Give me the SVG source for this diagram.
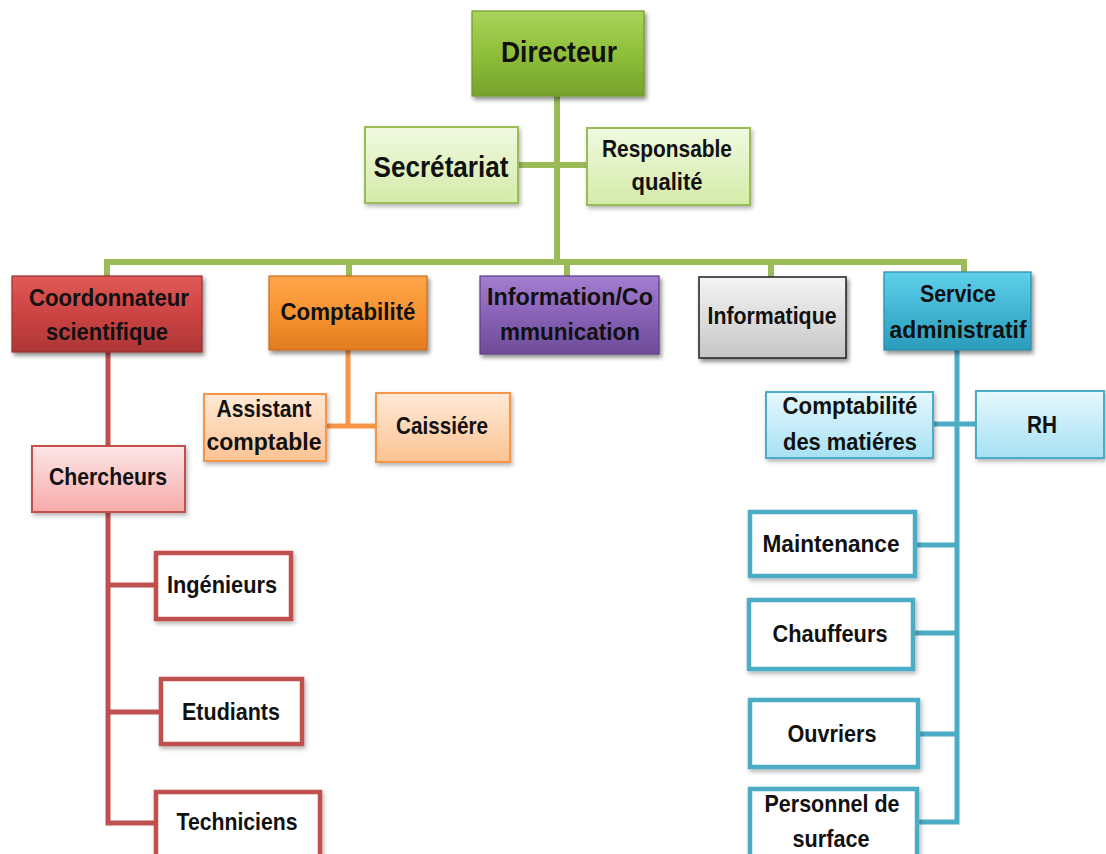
<svg xmlns="http://www.w3.org/2000/svg" width="1106" height="854" viewBox="0 0 1106 854">
  <defs>
    <style>
      .t{font-family:"Liberation Sans Narrow","Liberation Sans",Arial,sans-serif;font-weight:700;fill:#111;text-anchor:middle;font-size:24px}
      .big{font-size:30px}
      .lvl1{stroke-width:1.2}
      .lite{stroke-width:2}
      .plain{fill:#fff;stroke-width:4.5}
      .cn{fill:none;stroke-linejoin:miter;stroke-linecap:butt}
    </style>
    <filter id="sh" x="-10%" y="-10%" width="125%" height="135%">
      <feDropShadow dx="2" dy="3" stdDeviation="2.2" flood-color="#000" flood-opacity="0.45"/>
    </filter>
    <filter id="shl" x="-10%" y="-10%" width="125%" height="135%">
      <feDropShadow dx="1.5" dy="2.5" stdDeviation="2" flood-color="#000" flood-opacity="0.3"/>
    </filter>
    <linearGradient id="gGreen" x1="0" y1="0" x2="0" y2="1">
      <stop offset="0" stop-color="#a9d35a"/>
      <stop offset="0.5" stop-color="#8fbf3b"/>
      <stop offset="1" stop-color="#76a22b"/>
    </linearGradient>
    <linearGradient id="gRed" x1="0" y1="0" x2="0" y2="1">
      <stop offset="0" stop-color="#e05a58"/>
      <stop offset="0.5" stop-color="#cc4343"/>
      <stop offset="1" stop-color="#ad3636"/>
    </linearGradient>
    <linearGradient id="gOrange" x1="0" y1="0" x2="0" y2="1">
      <stop offset="0" stop-color="#ffa54a"/>
      <stop offset="0.5" stop-color="#f79331"/>
      <stop offset="1" stop-color="#e17c1f"/>
    </linearGradient>
    <linearGradient id="gPurple" x1="0" y1="0" x2="0" y2="1">
      <stop offset="0" stop-color="#a37dd0"/>
      <stop offset="0.5" stop-color="#8862b6"/>
      <stop offset="1" stop-color="#6e4c98"/>
    </linearGradient>
    <linearGradient id="gGray" x1="0" y1="0" x2="0" y2="1">
      <stop offset="0" stop-color="#f4f4f4"/>
      <stop offset="1" stop-color="#c6c6c6"/>
    </linearGradient>
    <linearGradient id="gCyan" x1="0" y1="0" x2="0" y2="1">
      <stop offset="0" stop-color="#5fd0ea"/>
      <stop offset="0.5" stop-color="#40b5d3"/>
      <stop offset="1" stop-color="#2b9cbb"/>
    </linearGradient>
    <linearGradient id="lGreen" x1="0" y1="0" x2="0" y2="1">
      <stop offset="0" stop-color="#f0f9e0"/>
      <stop offset="1" stop-color="#d4eba9"/>
    </linearGradient>
    <linearGradient id="lOrange" x1="0" y1="0" x2="0" y2="1">
      <stop offset="0" stop-color="#fee9d6"/>
      <stop offset="1" stop-color="#fcc392"/>
    </linearGradient>
    <linearGradient id="lRed" x1="0" y1="0" x2="0" y2="1">
      <stop offset="0" stop-color="#fde6e6"/>
      <stop offset="1" stop-color="#f7aaaa"/>
    </linearGradient>
    <linearGradient id="lCyan" x1="0" y1="0" x2="0" y2="1">
      <stop offset="0" stop-color="#e6f7fd"/>
      <stop offset="1" stop-color="#a6e1f3"/>
    </linearGradient>
  </defs>

  <rect width="1106" height="854" fill="#fff"/>

  <!-- connectors -->
  <g id="connectors" class="cn">
    <g stroke="#9bbb59" stroke-width="6">
      <path d="M557,96 V262"/>
      <path d="M517,165 H587"/>
      <path d="M107,277 V262 H964 V273"/>
      <path d="M349,262 V277"/>
      <path d="M567,262 V277"/>
      <path d="M771,262 V277"/>
    </g>
    <g stroke="#f79646" stroke-width="5">
      <path d="M348,350 V426"/>
      <path d="M326,426 H376"/>
    </g>
    <g stroke="#c0504d" stroke-width="5">
      <path d="M108,352 V823 H156"/>
      <path d="M108,585 H156"/>
      <path d="M108,712 H161"/>
    </g>
    <g stroke="#4bacc6" stroke-width="5">
      <path d="M957,350 V822 H917"/>
      <path d="M933,424 H976"/>
      <path d="M915,545 H957"/>
      <path d="M913,633 H957"/>
      <path d="M918,734 H957"/>
    </g>
  </g>

  <!-- top -->
  <g id="directeur">
    <rect x="472" y="11" width="172" height="85" fill="url(#gGreen)" stroke="#6f9a2c" class="lvl1" filter="url(#sh)"/>
    <text class="t big" x="559" y="62" textLength="116" lengthAdjust="spacingAndGlyphs">Directeur</text>
  </g>
  <g id="secretariat">
    <rect x="365" y="127" width="153" height="76" fill="url(#lGreen)" stroke="#9bbb59" class="lite" filter="url(#shl)"/>
    <text class="t big" x="441" y="177" textLength="135" lengthAdjust="spacingAndGlyphs">Secrétariat</text>
  </g>
  <g id="responsable-qualite">
    <rect x="587" y="128" width="163" height="77" fill="url(#lGreen)" stroke="#9bbb59" class="lite" filter="url(#shl)"/>
    <text class="t" x="667" y="157" textLength="130" lengthAdjust="spacingAndGlyphs">Responsable</text>
    <text class="t" x="667" y="190" textLength="71" lengthAdjust="spacingAndGlyphs">qualité</text>
  </g>

  <!-- departments -->
  <g id="coordonnateur">
    <rect x="12" y="276" width="190" height="76" fill="url(#gRed)" stroke="#9a3030" class="lvl1" filter="url(#sh)"/>
    <text class="t" x="109" y="306" textLength="160" lengthAdjust="spacingAndGlyphs">Coordonnateur</text>
    <text class="t" x="107" y="340" textLength="122" lengthAdjust="spacingAndGlyphs">scientifique</text>
  </g>
  <g id="comptabilite">
    <rect x="269" y="276" width="158" height="74" fill="url(#gOrange)" stroke="#c86d1c" class="lvl1" filter="url(#sh)"/>
    <text class="t" x="348" y="320" textLength="135" lengthAdjust="spacingAndGlyphs">Comptabilité</text>
  </g>
  <g id="information-communication">
    <rect x="480" y="276" width="179" height="78" fill="url(#gPurple)" stroke="#5e3f86" class="lvl1" filter="url(#sh)"/>
    <text class="t" x="570" y="305" textLength="166" lengthAdjust="spacingAndGlyphs">Information/Co</text>
    <text class="t" x="570" y="340" textLength="140" lengthAdjust="spacingAndGlyphs">mmunication</text>
  </g>
  <g id="informatique">
    <rect x="699" y="277" width="147" height="81" fill="url(#gGray)" stroke="#2a2a2a" stroke-width="1.6" filter="url(#sh)"/>
    <text class="t" x="772" y="324" textLength="129" lengthAdjust="spacingAndGlyphs">Informatique</text>
  </g>
  <g id="service-administratif">
    <rect x="884" y="272" width="147" height="78" fill="url(#gCyan)" stroke="#2a8aa6" class="lvl1" filter="url(#sh)"/>
    <text class="t" x="958" y="302" textLength="76" lengthAdjust="spacingAndGlyphs">Service</text>
    <text class="t" x="958" y="338" textLength="137" lengthAdjust="spacingAndGlyphs">administratif</text>
  </g>

  <!-- comptabilité branch -->
  <g id="assistant-comptable">
    <rect x="204" y="394" width="122" height="67" fill="url(#lOrange)" stroke="#f79646" class="lite" filter="url(#shl)"/>
    <text class="t" x="264" y="417" textLength="95" lengthAdjust="spacingAndGlyphs">Assistant</text>
    <text class="t" x="264" y="450" textLength="115" lengthAdjust="spacingAndGlyphs">comptable</text>
  </g>
  <g id="caissiere">
    <rect x="376" y="393" width="134" height="69" fill="url(#lOrange)" stroke="#f79646" class="lite" filter="url(#shl)"/>
    <text class="t" x="442" y="434" textLength="92" lengthAdjust="spacingAndGlyphs">Caissiére</text>
  </g>

  <!-- scientific branch -->
  <g id="chercheurs">
    <rect x="32" y="446" width="153" height="66" fill="url(#lRed)" stroke="#c0504d" class="lite" filter="url(#shl)"/>
    <text class="t" x="108" y="485" textLength="118" lengthAdjust="spacingAndGlyphs">Chercheurs</text>
  </g>
  <g id="ingenieurs">
    <rect x="156" y="553" width="135" height="66" stroke="#c0504d" class="plain" filter="url(#shl)"/>
    <text class="t" x="222" y="593" textLength="110" lengthAdjust="spacingAndGlyphs">Ingénieurs</text>
  </g>
  <g id="etudiants">
    <rect x="161" y="679" width="141" height="65" stroke="#c0504d" class="plain" filter="url(#shl)"/>
    <text class="t" x="231" y="720" textLength="98" lengthAdjust="spacingAndGlyphs">Etudiants</text>
  </g>
  <g id="techniciens">
    <rect x="156" y="792" width="164" height="80" stroke="#c0504d" class="plain" filter="url(#shl)"/>
    <text class="t" x="237" y="830" textLength="121" lengthAdjust="spacingAndGlyphs">Techniciens</text>
  </g>

  <!-- administrative branch -->
  <g id="comptabilite-matieres">
    <rect x="766" y="392" width="167" height="66" fill="url(#lCyan)" stroke="#4bacc6" class="lite" filter="url(#shl)"/>
    <text class="t" x="850" y="414" textLength="135" lengthAdjust="spacingAndGlyphs">Comptabilité</text>
    <text class="t" x="850" y="450" textLength="134" lengthAdjust="spacingAndGlyphs">des matiéres</text>
  </g>
  <g id="rh">
    <rect x="976" y="391" width="128" height="67" fill="url(#lCyan)" stroke="#4bacc6" class="lite" filter="url(#shl)"/>
    <text class="t" x="1042" y="433" textLength="30" lengthAdjust="spacingAndGlyphs">RH</text>
  </g>
  <g id="maintenance">
    <rect x="750" y="512" width="165" height="64" stroke="#4bacc6" class="plain" filter="url(#shl)"/>
    <text class="t" x="831" y="552" textLength="137" lengthAdjust="spacingAndGlyphs">Maintenance</text>
  </g>
  <g id="chauffeurs">
    <rect x="749" y="600" width="164" height="69" stroke="#4bacc6" class="plain" filter="url(#shl)"/>
    <text class="t" x="830" y="642" textLength="115" lengthAdjust="spacingAndGlyphs">Chauffeurs</text>
  </g>
  <g id="ouvriers">
    <rect x="750" y="700" width="168" height="67" stroke="#4bacc6" class="plain" filter="url(#shl)"/>
    <text class="t" x="832" y="742" textLength="89" lengthAdjust="spacingAndGlyphs">Ouvriers</text>
  </g>
  <g id="personnel-surface">
    <rect x="750" y="789" width="167" height="80" stroke="#4bacc6" class="plain" filter="url(#shl)"/>
    <text class="t" x="832" y="812" textLength="135" lengthAdjust="spacingAndGlyphs">Personnel de</text>
    <text class="t" x="831" y="847" textLength="77" lengthAdjust="spacingAndGlyphs">surface</text>
  </g>
</svg>
